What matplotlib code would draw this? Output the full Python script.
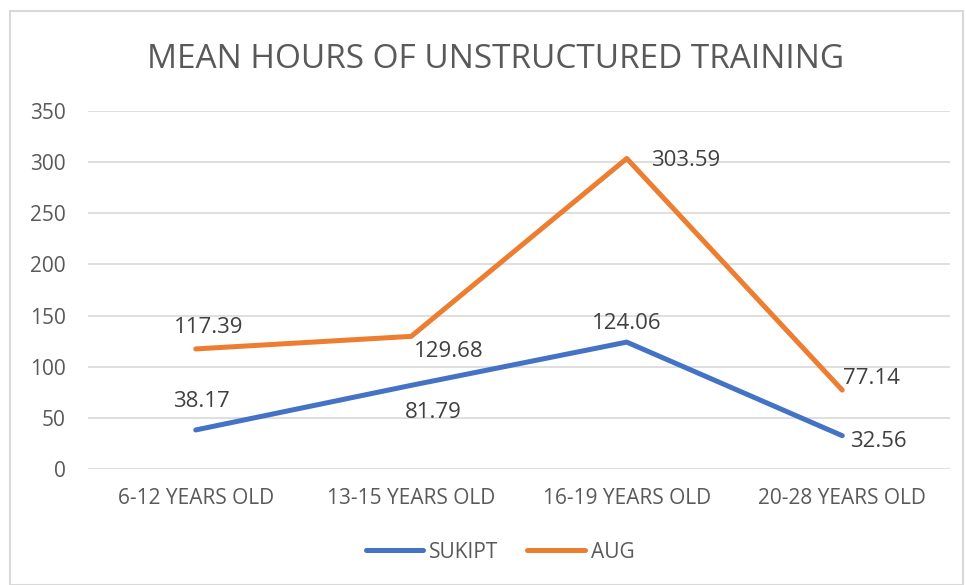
import matplotlib
matplotlib.use("Agg")
import matplotlib.pyplot as plt
from matplotlib.patches import Rectangle

categories = ["6-12 YEARS OLD", "13-15 YEARS OLD", "16-19 YEARS OLD", "20-28 YEARS OLD"]
sukipt = [38.17, 81.79, 124.06, 32.56]
aug = [117.39, 129.68, 303.59, 77.14]
yticks = [0, 50, 100, 150, 200, 250, 300, 350]

# label offsets (pixels, label centre relative to point)
sukipt_off = [(6, 28), (22, -27), (0, 19), (36, -6)]
aug_off = [(13, 21), (37, -15), (59, -2), (29, 12)]

BLUE = "#4472C4"
ORANGE = "#ED7D31"
GRAY = "#595959"
FONT = ["Open Sans", "DejaVu Sans"]

plt.rcParams["font.family"] = FONT

fig = plt.figure(figsize=(9.66, 5.85), dpi=100)
fig.patches.append(Rectangle((10/966, 0), (963-10)/966, 1 - 11/585, transform=fig.transFigure,
                             fill=False, edgecolor="#D9D9D9", linewidth=1.5))
ax = fig.add_axes([88/966, 1 - 469/585, (950-88)/966, (469-111)/585])

x = list(range(len(categories)))
l1, = ax.plot(x, sukipt, color=BLUE, lw=3.6, solid_capstyle="round", solid_joinstyle="round", label="SUKIPT")
l2, = ax.plot(x, aug, color=ORANGE, lw=3.6, solid_capstyle="round", solid_joinstyle="round", label="AUG")

def place(vals, offs):
    for xi, v, (dx, dy) in zip(x, vals, offs):
        ax.annotate(f"{v:.2f}", (xi, v), xytext=(dx, dy), textcoords="offset pixels",
                    ha="center", va="center", fontsize=16, color="#404040")

place(sukipt, sukipt_off)
place(aug, aug_off)

ax.set_xlim(-0.5, len(categories) - 0.5)
ax.set_ylim(0, 350)
ax.set_yticks(yticks)
ax.set_xticks(x)
ax.set_xticklabels(categories)
ax.tick_params(axis="both", length=0, labelsize=15, labelcolor=GRAY)
ax.tick_params(axis="x", pad=14)
ax.tick_params(axis="y", pad=16)
ax.grid(axis="y", color="#D9D9D9", linewidth=1.2)
ax.set_axisbelow(True)
for s in ax.spines.values():
    s.set_visible(False)

fig.text(496/966, 1 - 59/585, "MEAN HOURS OF UNSTRUCTURED TRAINING", ha="center", va="center",
         fontsize=24, color=GRAY)

leg = fig.legend(handles=[l1, l2], loc="center", bbox_to_anchor=(500/966, 1 - 552/585), ncol=2,
                 frameon=False, fontsize=15, handlelength=2.74, handletextpad=0.3, columnspacing=1.4)
for t in leg.get_texts():
    t.set_color(GRAY)

fig.savefig("out.png", dpi=100)
